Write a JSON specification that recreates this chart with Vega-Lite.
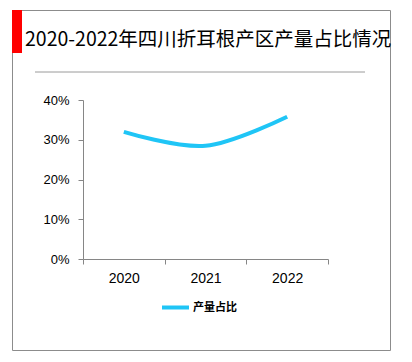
{
  "$schema": "https://vega.github.io/schema/vega-lite/v6.json",
  "autosize": {"type": "none"},
  "width": 378,
  "height": 340,
  "padding": {"left": 12, "top": 10, "right": 22, "bottom": 12},
  "background": "white",
  "config": {"view": {"stroke": "#8c8c8c", "strokeWidth": 1}, "font": "Liberation Sans"},
  "title": {
    "text": "2020-2022年四川折耳根产区产量占比情况",
    "anchor": "start",
    "frame": "group",
    "orient": "top",
    "offset": 0,
    "dx": 13,
    "dy": 40,
    "fontSize": 19.5,
    "font": "Noto Sans CJK SC",
    "fontWeight": "normal",
    "color": "#000000"
  },
  "layer": [
    {
      "data": {"values": [
        {"年份": "2020", "产量占比": 0.32, "系列": "产量占比"},
        {"年份": "2021", "产量占比": 0.285, "系列": "产量占比"},
        {"年份": "2022", "产量占比": 0.358, "系列": "产量占比"}
      ]},
      "mark": {"type": "line", "interpolate": "cardinal", "strokeWidth": 4, "strokeCap": "butt"},
      "encoding": {
        "x": {
          "field": "年份", "type": "ordinal",
          "scale": {"type": "band", "range": [71, 316], "paddingInner": 0, "paddingOuter": 0},
          "axis": {
            "orient": "bottom", "offset": -91, "title": null, "labelAngle": 0,
            "tickBand": "extent", "tickSize": 5, "tickColor": "#868686",
            "domainColor": "#868686", "labelFont": "Liberation Sans", "labelFontSize": 14,
            "labelColor": "#000000", "labelPadding": 7, "grid": false
          }
        },
        "y": {
          "field": "产量占比", "type": "quantitative",
          "scale": {"domain": [0, 0.4], "range": [249, 90], "nice": false, "zero": true},
          "axis": {
            "orient": "left", "offset": -71, "title": null, "values": [0, 0.1, 0.2, 0.3, 0.4],
            "format": ".0%", "tickSize": 5, "tickColor": "#868686", "domainColor": "#868686",
            "labelFont": "Liberation Sans", "labelFontSize": 13, "labelColor": "#000000",
            "labelPadding": 9, "grid": false
          }
        },
        "color": {
          "field": "系列", "type": "nominal",
          "scale": {"range": ["#1fc5f6"]},
          "legend": {
            "orient": "none", "legendX": 148, "legendY": 282, "title": null, "padding": 0,
            "symbolType": "stroke", "symbolSize": 729, "symbolStrokeWidth": 4,
            "labelFont": "Noto Sans CJK SC", "labelFontSize": 11, "labelFontWeight": "bold",
            "labelColor": "#000000", "labelOffset": 2
          }
        }
      }
    },
    {
      "data": {"values": [{"x0": 0, "x1": 10, "y0": 0, "y1": 43}]},
      "mark": {"type": "rect", "color": "#ff0000"},
      "encoding": {
        "x": {"field": "x0", "type": "quantitative", "scale": {"domain": [0, 378], "range": [0, 378], "nice": false, "zero": false}, "axis": null},
        "x2": {"field": "x1"},
        "y": {"field": "y0", "type": "quantitative", "scale": {"domain": [0, 340], "range": [0, 340], "nice": false, "zero": false}, "axis": null},
        "y2": {"field": "y1"}
      }
    },
    {
      "data": {"values": [{"x0": 23, "x1": 353, "y0": 62}]},
      "mark": {"type": "rule", "color": "#9a9a9a", "strokeWidth": 1},
      "encoding": {
        "x": {"field": "x0", "type": "quantitative", "scale": {"domain": [0, 378], "range": [0, 378], "nice": false, "zero": false}, "axis": null},
        "x2": {"field": "x1"},
        "y": {"field": "y0", "type": "quantitative", "scale": {"domain": [0, 340], "range": [0, 340], "nice": false, "zero": false}, "axis": null}
      }
    }
  ],
  "resolve": {"scale": {"x": "independent", "y": "independent", "color": "independent"}}
}
